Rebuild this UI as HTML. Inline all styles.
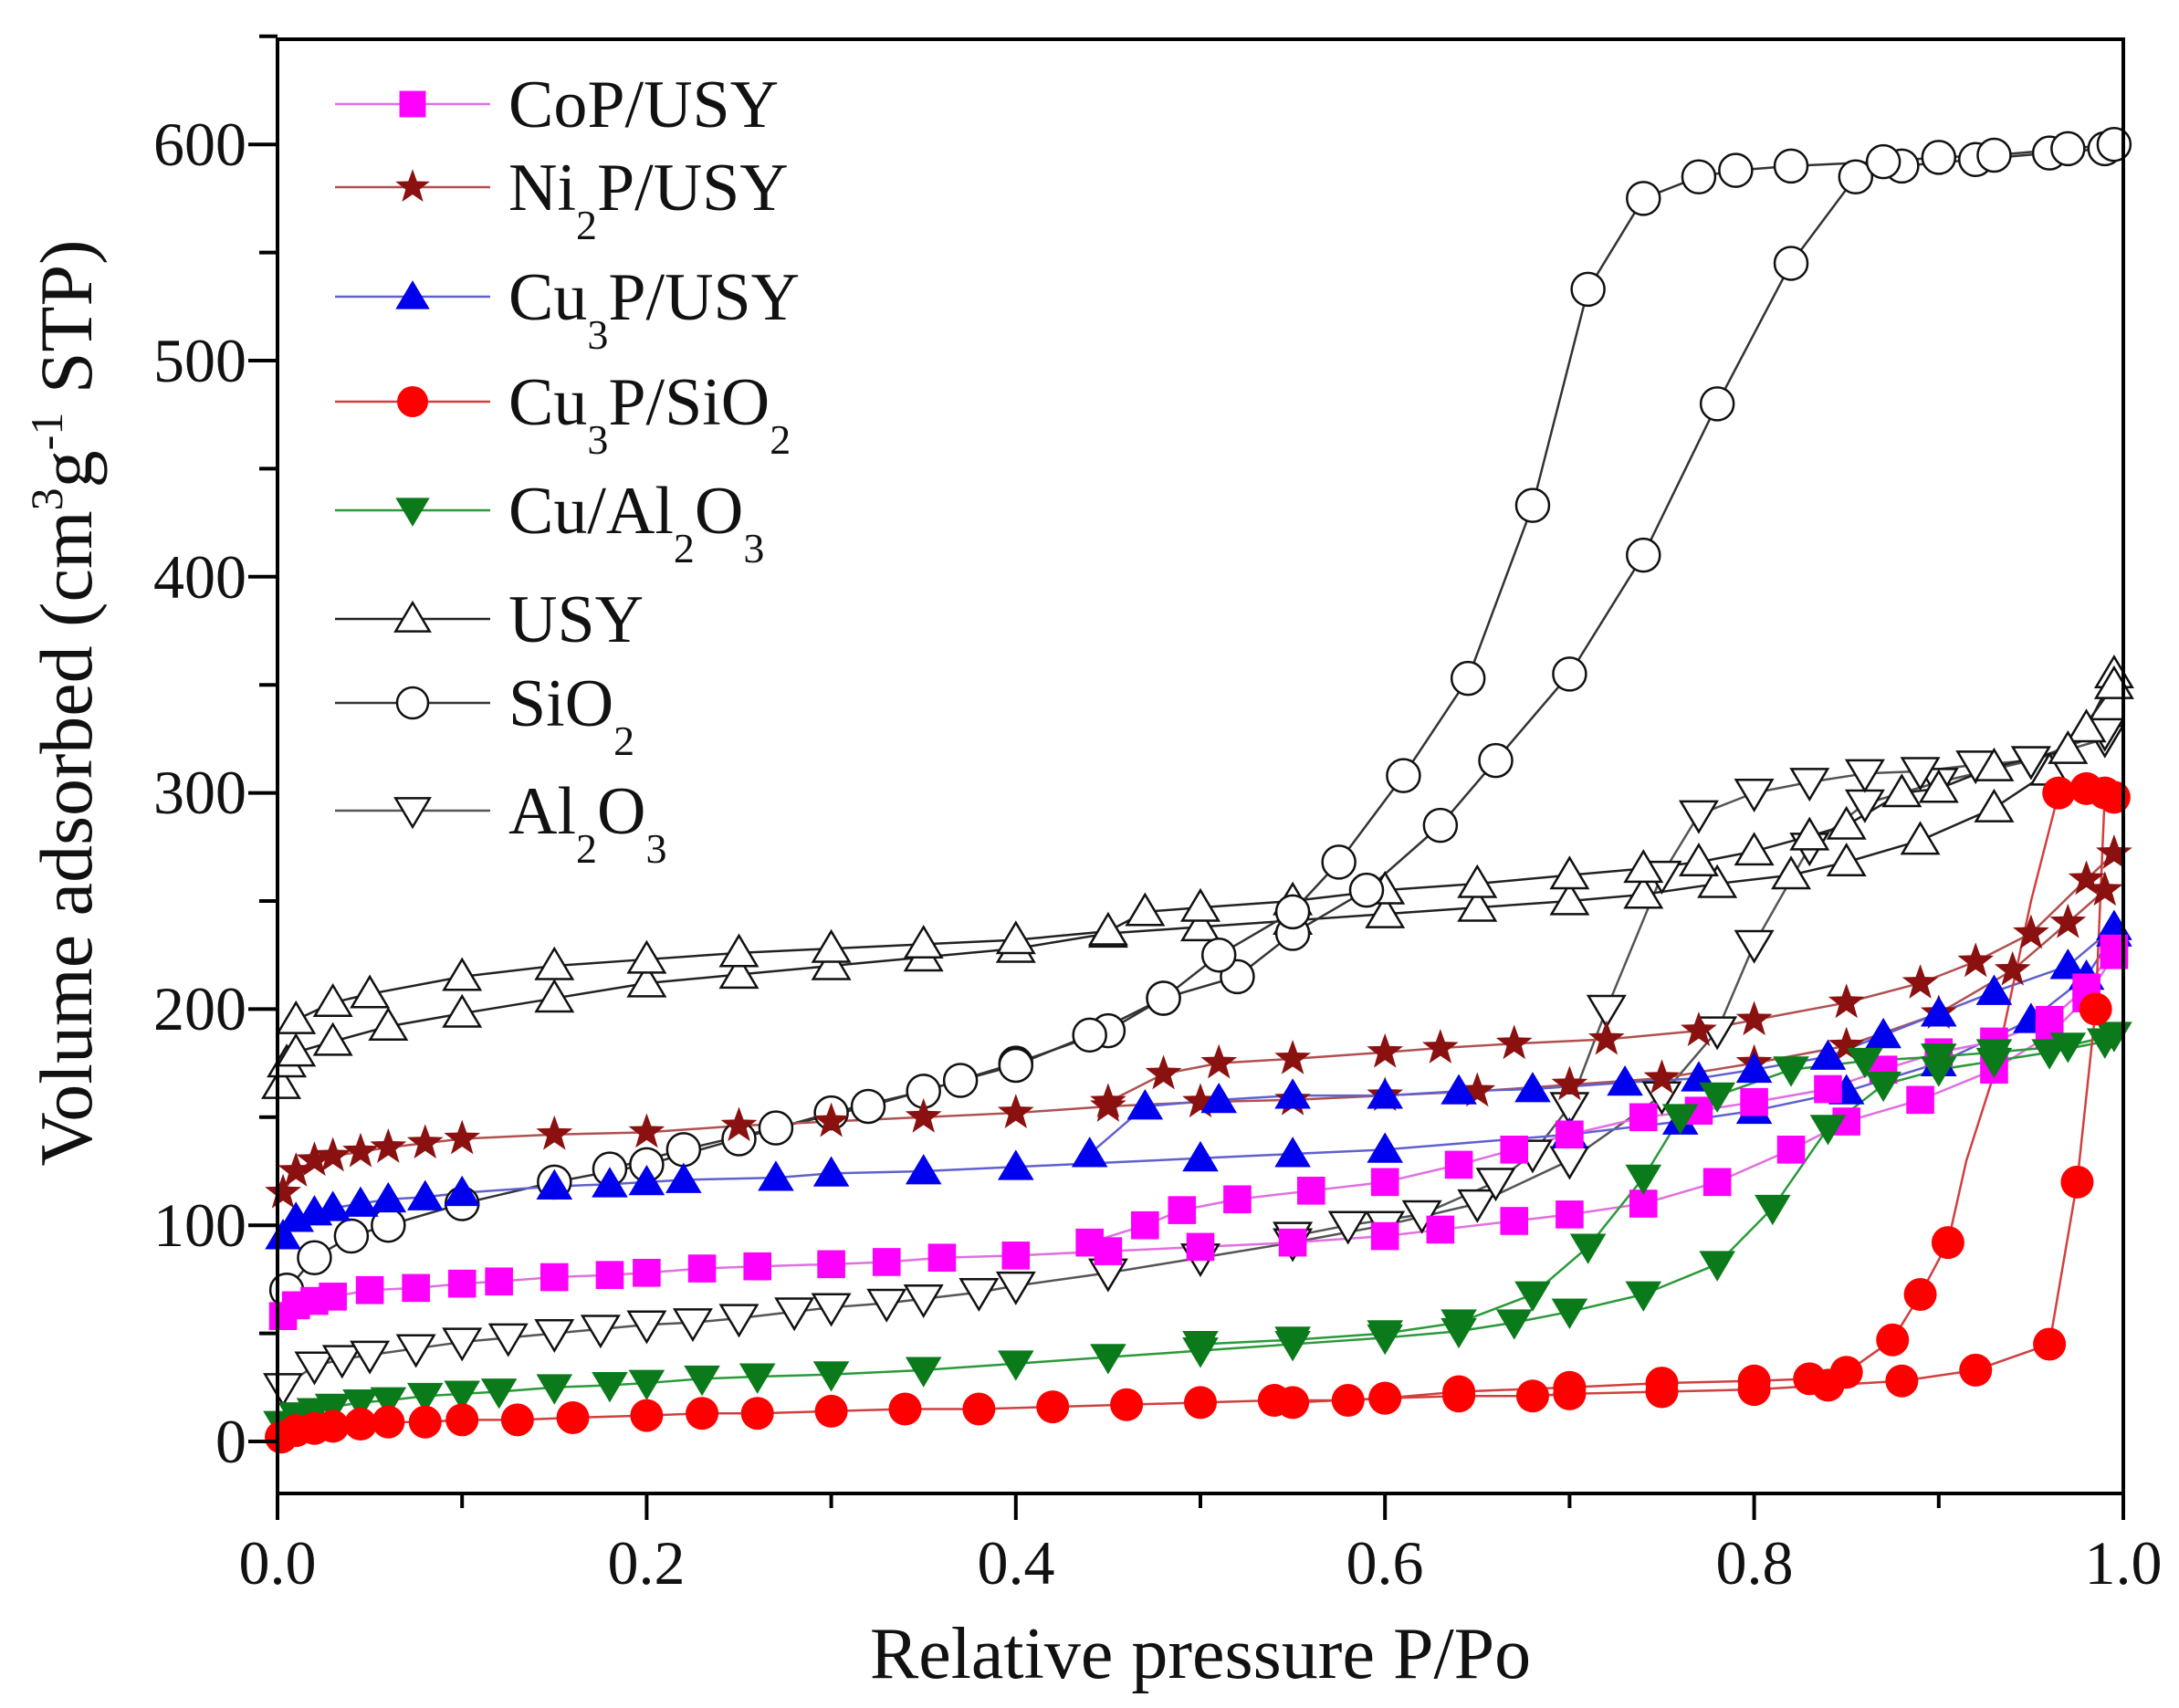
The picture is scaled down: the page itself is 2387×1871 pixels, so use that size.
<!DOCTYPE html>
<html><head><meta charset="utf-8"><style>
html,body{margin:0;padding:0;background:#fff;}
svg text{font-family:"Liberation Serif",serif;fill:#111;}
</style></head><body>
<svg id="s" width="2387" height="1866" viewBox="0 0 2387 1866" xmlns="http://www.w3.org/2000/svg">
<rect width="2387" height="1866" fill="#fff"/>
<g id="data"></g>
<rect x="304" y="43" width="2022" height="1593" fill="none" stroke="#000" stroke-width="4"/>
<g id="ticks" stroke="#000" stroke-width="4"></g>
<g font-size="68" text-anchor="end">
<text x="270" y="1602">0</text><text x="270" y="1365">100</text><text x="270" y="1128">200</text>
<text x="270" y="891">300</text><text x="270" y="655">400</text><text x="270" y="418">500</text><text x="270" y="181">600</text>
</g>
<g font-size="68" text-anchor="middle">
<text x="304" y="1735">0.0</text><text x="708" y="1735">0.2</text><text x="1113" y="1735">0.4</text>
<text x="1517" y="1735">0.6</text><text x="1922" y="1735">0.8</text><text x="2326" y="1735">1.0</text>
</g>
<text x="1315" y="1838" font-size="80" text-anchor="middle">Relative pressure P/Po</text>
<text transform="translate(100,770) rotate(-90)" font-size="82" text-anchor="middle">Volume adsorbed (cm<tspan font-size="50" dy="-32">3</tspan><tspan dy="32">g</tspan><tspan font-size="50" dy="-32">-1</tspan><tspan dy="32"> STP)</tspan></text>
<g id="legend"></g>
</svg>
<script>
const X=x=>304+x*2022, Y=v=>1579-v*2.368;
const ns="http://www.w3.org/2000/svg";
function el(t,a,p){const e=document.createElementNS(ns,t);for(const k in a)e.setAttribute(k,a[k]);p.appendChild(e);return e;}
const tk=document.getElementById('ticks');
for(let i=0;i<=13;i++){const v=i*50;if(v>650)break;const y=Y(v);el('line',{x1:304,x2:v%100==0?272:284,y1:y,y2:y},tk);}
for(let i=0;i<=10;i++){const x=X(i/10);el('line',{x1:x,x2:x,y1:1636,y2:i%2==0?1665:1652},tk);}
function marker(type,x,y,col,g,r){r=r||15;
 if(type=='sq')el('rect',{x:x-r*0.85,y:y-r*0.85,width:r*1.7,height:r*1.7,fill:col},g);
 else if(type=='ci')el('circle',{cx:x,cy:y,r:r,fill:col},g);
 else if(type=='oc')el('circle',{cx:x,cy:y,r:r,fill:'#fff',stroke:'#111','stroke-width':2.5},g);
 else if(type=='tu'||type=='otu'){const p=`${x},${y-r*1.05} ${x-r*1.1},${y+r*0.8} ${x+r*1.1},${y+r*0.8}`;el('polygon',type=='tu'?{points:p,fill:col}:{points:p,fill:'#fff',stroke:'#111','stroke-width':2.5},g);}
 else if(type=='td'||type=='otd'){const p=`${x},${y+r*1.05} ${x-r*1.1},${y-r*0.8} ${x+r*1.1},${y-r*0.8}`;el('polygon',type=='td'?{points:p,fill:col}:{points:p,fill:'#fff',stroke:'#111','stroke-width':2.5},g);}
 else if(type=='st'){let p=[];for(let k=0;k<10;k++){const a=-Math.PI/2+k*Math.PI/5,rr=k%2?r*0.45:r*1.1;p.push((x+rr*Math.cos(a))+','+(y+rr*Math.sin(a)));}el('polygon',{points:p.join(' '),fill:col},g);}
}
const S=[
{n:'Al2O3',m:'otd',c:'#555',lc:'#555',
a:[[0.003,25],[0.02,35],[0.035,38],[0.05,40],[0.075,43],[0.1,46],[0.125,48],[0.15,50],[0.175,52],[0.2,54],[0.225,55],[0.25,57],[0.28,60],[0.3,62],[0.33,64],[0.35,66],[0.38,69],[0.4,72],[0.45,78],[0.5,85],[0.55,92],[0.6,100],[0.65,110],[0.7,130],[0.75,160],[0.78,190],[0.8,230],[0.83,275],[0.86,295],[0.9,305],[0.95,315],[0.99,325]],
d:[[0.99,328],[0.95,315],[0.92,313],[0.89,310],[0.86,309],[0.83,305],[0.8,300],[0.77,290],[0.75,262],[0.72,200],[0.7,155],[0.68,133],[0.66,120],[0.62,105],[0.58,100],[0.55,95]]},
{n:'USY',m:'otu',c:'#111',lc:'#222',
a:[[0.002,165],[0.005,175],[0.01,180],[0.03,185],[0.06,192],[0.1,198],[0.15,205],[0.2,212],[0.25,216],[0.3,220],[0.35,224],[0.4,228],[0.45,235],[0.5,238],[0.55,241],[0.6,244],[0.65,247],[0.7,250],[0.74,253],[0.78,258],[0.82,262],[0.85,268],[0.89,278],[0.93,293],[0.96,310],[0.98,330],[0.995,355]],
d:[[0.995,350],[0.97,320],[0.93,312],[0.9,302],[0.88,300],[0.85,285],[0.83,280],[0.8,273],[0.77,268],[0.74,265],[0.7,262],[0.65,258],[0.6,255],[0.55,250],[0.5,247],[0.47,245],[0.45,236],[0.4,232],[0.35,230],[0.3,228],[0.25,226],[0.2,223],[0.15,220],[0.1,215],[0.05,207],[0.03,203],[0.01,195]]},
{n:'SiO2',m:'oc',c:'#111',lc:'#333',
a:[[0.005,70],[0.02,85],[0.04,95],[0.06,100],[0.1,110],[0.15,120],[0.2,128],[0.25,140],[0.3,152],[0.35,162],[0.4,175],[0.45,190],[0.48,205],[0.52,215],[0.55,235],[0.59,255],[0.63,285],[0.66,315],[0.7,355],[0.74,410],[0.78,480],[0.82,545],[0.855,585],[0.88,590],[0.92,593],[0.96,596],[0.99,598]],
d:[[0.995,600],[0.97,598],[0.93,595],[0.9,594],[0.87,592],[0.82,590],[0.79,588],[0.77,585],[0.74,575],[0.71,533],[0.68,433],[0.645,353],[0.61,308],[0.575,268],[0.55,245],[0.51,225],[0.48,205],[0.44,188],[0.4,174],[0.37,167],[0.32,155],[0.27,145],[0.22,135],[0.18,126]]},
{n:'Ni2P',m:'st',c:'#8b1010',lc:'#b05050',
a:[[0.003,115],[0.01,125],[0.02,130],[0.03,132],[0.045,134],[0.06,136],[0.08,138],[0.1,140],[0.15,142],[0.2,143],[0.25,146],[0.3,148],[0.35,150],[0.4,152],[0.45,155],[0.5,157],[0.55,158],[0.6,160],[0.65,162],[0.7,165],[0.75,168],[0.8,175],[0.85,183],[0.9,198],[0.94,218],[0.97,240],[0.99,255]],
d:[[0.995,272],[0.98,260],[0.95,235],[0.92,222],[0.89,212],[0.85,203],[0.8,195],[0.77,190],[0.72,186],[0.67,184],[0.63,182],[0.6,180],[0.55,177],[0.51,175],[0.48,170],[0.45,157]]},
{n:'Cu3P/USY',m:'tu',c:'#0000ee',lc:'#6060d0',
a:[[0.003,95],[0.01,103],[0.02,106],[0.03,108],[0.045,110],[0.06,112],[0.08,113],[0.1,115],[0.15,118],[0.18,119],[0.2,120],[0.22,121],[0.27,122],[0.3,124],[0.35,125],[0.4,127],[0.5,131],[0.55,133],[0.6,135],[0.7,142],[0.76,148],[0.8,153],[0.85,162],[0.9,175],[0.95,195],[0.98,215],[0.995,235]],
d:[[0.995,238],[0.97,220],[0.93,208],[0.9,198],[0.87,188],[0.84,178],[0.8,172],[0.77,168],[0.73,166],[0.68,163],[0.64,162],[0.6,160],[0.55,160],[0.51,158],[0.47,155],[0.44,133]]},
{n:'CoP',m:'sq',c:'#ff00ff',lc:'#e070e0',
a:[[0.003,58],[0.01,63],[0.02,65],[0.03,67],[0.05,70],[0.075,71],[0.1,73],[0.12,74],[0.15,76],[0.18,77],[0.2,78],[0.23,80],[0.26,81],[0.3,82],[0.33,83],[0.36,85],[0.4,86],[0.45,88],[0.5,90],[0.55,92],[0.6,95],[0.63,98],[0.67,102],[0.7,105],[0.74,110],[0.78,120],[0.82,135],[0.85,148],[0.89,158],[0.93,172],[0.96,188],[0.98,205],[0.995,225]],
d:[[0.995,228],[0.98,210],[0.96,195],[0.93,185],[0.9,180],[0.87,172],[0.84,163],[0.8,157],[0.77,153],[0.74,150],[0.7,142],[0.67,135],[0.64,128],[0.6,120],[0.56,116],[0.52,112],[0.49,107],[0.47,100],[0.44,92]]},
{n:'Cu/Al2O3',m:'td',c:'#0a7a1a',lc:'#2a9a3a',
a:[[0.002,8],[0.01,12],[0.02,14],[0.03,16],[0.045,18],[0.06,19],[0.08,21],[0.1,22],[0.12,23],[0.15,25],[0.18,26],[0.2,27],[0.23,29],[0.26,30],[0.3,31],[0.35,33],[0.4,36],[0.45,39],[0.5,42],[0.55,45],[0.6,48],[0.64,51],[0.67,55],[0.7,60],[0.74,68],[0.78,82],[0.81,108],[0.84,145],[0.87,165],[0.9,172],[0.93,176],[0.96,180],[0.99,185]],
d:[[0.995,188],[0.97,183],[0.93,180],[0.9,178],[0.86,176],[0.82,172],[0.78,160],[0.76,150],[0.74,122],[0.71,90],[0.68,68],[0.64,55],[0.6,50],[0.55,47],[0.5,45]]},
{n:'Cu3P/SiO2',m:'ci',c:'#ff0000',lc:'#d04040',
a:[[0.002,2],[0.01,5],[0.02,6],[0.03,7],[0.045,8],[0.06,9],[0.08,9],[0.1,10],[0.13,10],[0.16,11],[0.2,12],[0.23,13],[0.26,13],[0.3,14],[0.34,15],[0.38,15],[0.42,16],[0.46,17],[0.5,18],[0.54,19],[0.58,19],[0.6,20],[0.64,21],[0.68,21],[0.7,22],[0.75,23],[0.8,24],[0.84,26],[0.88,28],[0.92,33],[0.96,45],[0.975,120],[0.985,200],[0.99,300]],
d:[[0.995,298],[0.98,302],[0.965,300],[0.95,250],[0.93,170],[0.915,130],[0.905,92],[0.89,68],[0.875,47],[0.85,32],[0.83,29],[0.8,28],[0.75,27],[0.7,25],[0.64,23],[0.6,20],[0.55,18]]}
];
const dg=document.getElementById('data');
S.forEach(s=>{
 [s.a,s.d].forEach(pts=>{el('polyline',{points:pts.map(p=>X(p[0])+','+Y(p[1])).join(' '),fill:'none',stroke:s.lc,'stroke-width':2.5},dg);});
});
S.forEach(s=>{[s.a,s.d].forEach((pts,k)=>pts.forEach((p,j)=>{ if(s.n=='Cu3P/SiO2'&&k==1&&(j>=3&&j<=5))return; marker(s.m,X(p[0]),Y(p[1]),s.c,dg,s.m=='st'?19:18);}));});
const lg=document.getElementById('legend');
const L=[['sq','#ff00ff','#e070e0','CoP/USY',[]],['st','#8b1010','#b05050','Ni',['2','P/USY']],['tu','#0000ee','#6060d0','Cu',['3','P/USY']],['ci','#ff0000','#d04040','Cu',['3','P/SiO','2']],['td','#0a7a1a','#2a9a3a','Cu/Al',['2','O','3']],['otu','#111','#222','USY',[]],['oc','#111','#333','SiO',['2']],['otd','#555','#555','Al',['2','O','3']]];
const ys=[114,205,325,440,559,678,770,888];
L.forEach((l,i)=>{const y=ys[i];
 el('line',{x1:367,x2:537,y1:y,y2:y,stroke:l[2],'stroke-width':2.5},lg);
 marker(l[0],452,y,l[1],lg,l[0]=='st'?18:17);
 const t=el('text',{x:557,y:y+25,'font-size':74},lg);
 t.appendChild(document.createTextNode(l[3]));
 l[4].forEach((part,j)=>{const isSub=/^\d$/.test(part);const ts=el('tspan',isSub?{'font-size':46,dy:32}:{dy:-32},t);ts.textContent=part;});
});
</script>
</body></html>
